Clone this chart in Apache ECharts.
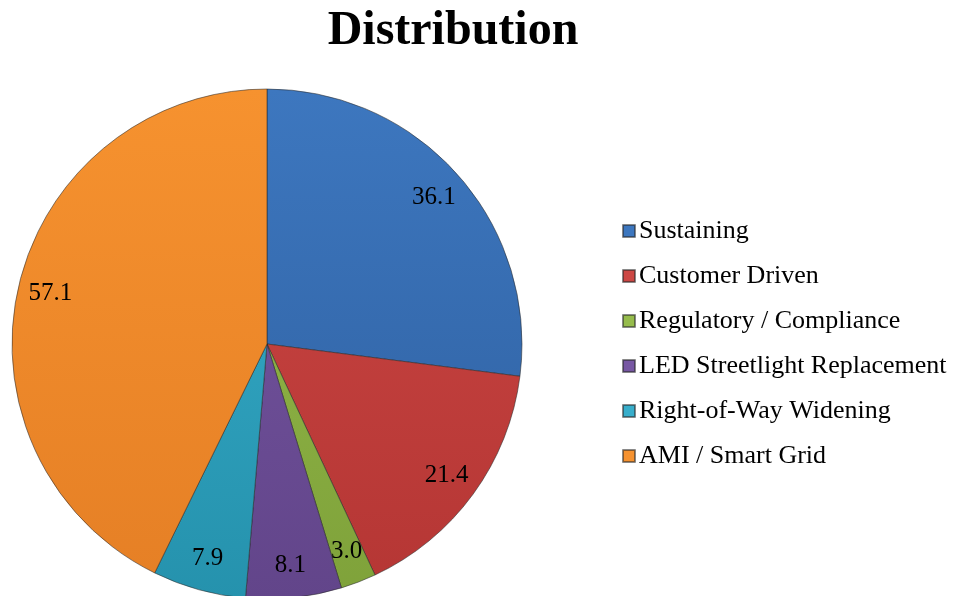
<!DOCTYPE html>
<html>
<head>
<meta charset="utf-8">
<script src="https://cdn.jsdelivr.net/npm/echarts@6/dist/echarts.min.js"></script>
<style>html,body{margin:0;padding:0;background:#fff}#c{width:958px;height:596px}</style>
</head>
<body>
<div id="c"></div>
<script>
var categories = ['Sustaining', 'Customer Driven', 'Regulatory / Compliance', 'LED Streetlight Replacement', 'Right-of-Way Widening', 'AMI / Smart Grid'];
var values = [36.1, 21.4, 3.0, 8.1, 7.9, 57.1];
var topColors = ['#3D77BF', '#CC4744', '#96BC4C', '#7757A3', '#38AECB', '#F6922F'];
var bottomColors = ['#2E5F9F', '#B53634', '#7FA23A', '#62458A', '#2592AD', '#E57F25'];

var chart = echarts.init(document.getElementById('c'));
var cx = 267, cy = 344, R = 255;

function grad(i) {
  return {
    type: 'linear', x: 0, y: cy - R, x2: 0, y2: cy + R, global: true,
    colorStops: [{offset: 0, color: topColors[i]}, {offset: 1, color: bottomColors[i]}]
  };
}

var pieData = categories.map(function (n, i) {
  return {name: n, value: values[i], itemStyle: {color: grad(i)}};
});
var labelData = categories.map(function (n, i) {
  return {name: n, value: values[i]};
});

chart.setOption({
  animation: false,
  color: topColors,
  title: {
    text: 'Distribution', left: 448, top: 3, textAlign: 'center',
    textStyle: {fontFamily: 'Liberation Serif', fontWeight: 'bold', fontSize: 48, color: '#000'}
  },
  legend: {
    orient: 'vertical', left: 617, top: 213,
    icon: 'rect', itemWidth: 12, itemHeight: 12, itemGap: 19,
    data: categories,
    textStyle: {fontFamily: 'Liberation Serif', fontSize: 26, color: '#000', padding: [0, 0, 0, -1]}
  },
  series: [
    {
      type: 'pie', center: [cx, cy], radius: [0, R], startAngle: 90, clockwise: true,
      data: pieData,
      itemStyle: {borderColor: 'rgba(40,40,40,0.55)', borderWidth: 1},
      label: {show: false}, labelLine: {show: false},
      silent: true
    },
    {
      type: 'pie', center: [cx, cy], radius: [R * 0.72, R], startAngle: 90, clockwise: true,
      data: labelData, legendHoverLink: false,
      itemStyle: {color: 'rgba(0,0,0,0)', borderWidth: 0},
      label: {
        show: true, position: 'inside', formatter: function (p) { return p.value.toFixed(1); },
        fontFamily: 'Liberation Serif', fontSize: 25, color: '#000'
      },
      labelLine: {show: false},
      silent: true
    }
  ]
});
</script>
</body>
</html>
